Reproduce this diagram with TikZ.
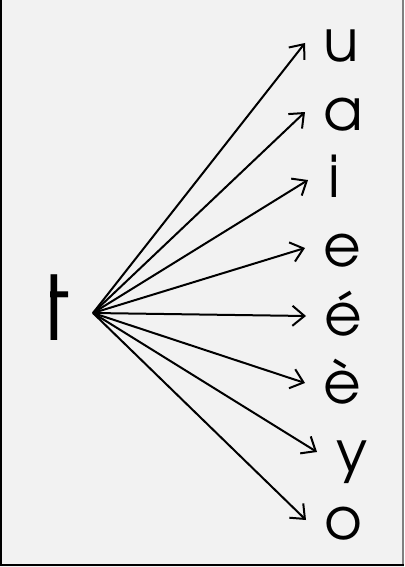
\documentclass[tikz,border=0pt]{standalone}
\usepackage{fontspec}
\setmainfont{texgyreadventor-regular.otf}
\usetikzlibrary{arrows.meta}
\definecolor{bg}{HTML}{F2F2F2}
\begin{document}
\begin{tikzpicture}[x=1pt,y=-1pt,
  vowel/.style={anchor=base,inner sep=0pt,font=\fontsize{58}{58}\selectfont},
  link/.style={line width=2pt,-{Straight Barb[length=12pt,width=20pt,line width=2pt]}}]
\fill[bg] (0,0) rectangle (404,567);
\useasboundingbox (0,0) rectangle (404,567);
\draw[line width=2pt] (1,0) -- (1,565) -- (404,565);
\draw[line width=1.5pt,gray] (403,0) -- (403,564);
\begin{scope}
\clip (50.6,250) rectangle (90,350);
\node[anchor=base west,inner sep=0pt,font=\fontsize{89}{89}\selectfont] (t) at (39.1,340) {t};
\end{scope}
\coordinate (hub) at (93,313);
\node[vowel] (u) at (341,62) {u};
\node[vowel] (a) at (343,130) {a};
\node[vowel] (i) at (334.5,197) {i};
\node[vowel] (e) at (342,266) {e};
\node[vowel] (ea) at (343,335) {é};
\node[vowel] (eg) at (342,403) {è};
\node[vowel] (y) at (352,472) {y};
\node[vowel] (o) at (343,539) {o};
\coordinate (tu) at (305,43);
\coordinate (ta) at (305,112);
\coordinate (ti) at (308,180);
\coordinate (te) at (305,248);
\coordinate (tea) at (306,316);
\coordinate (teg) at (305,383);
\coordinate (ty) at (317,452);
\coordinate (to) at (306,520);
\foreach \p in {tu,ta,ti,te,tea,teg,ty,to}
  \draw[link] (hub) -- (\p);
\end{tikzpicture}
\end{document}
